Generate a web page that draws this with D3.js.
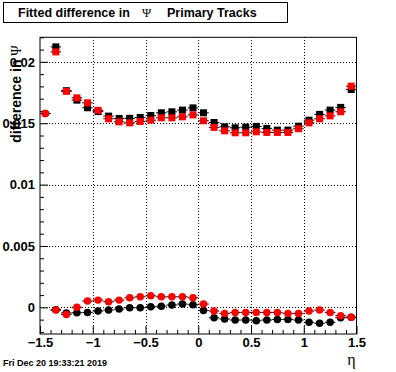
<!DOCTYPE html>
<html>
<head>
<meta charset="utf-8">
<script src="https://cdn.jsdelivr.net/npm/d3@7"></script>
<style>
  body { margin: 0; background: #fff; }
  svg { display: block; font-family: "Liberation Sans", Arial, sans-serif; }
</style>
</head>
<body>
<div id="svg-container"></div>
<script>
////////////////////////////  Data  ////////////////////////////
const etaBins = [-1.45, -1.35, -1.25, -1.15, -1.05, -0.95, -0.85, -0.75, -0.65, -0.55,
  -0.45, -0.35, -0.25, -0.15, -0.05, 0.05, 0.15, 0.25, 0.35, 0.45,
  0.55, 0.65, 0.75, 0.85, 0.95, 1.05, 1.15, 1.25, 1.35, 1.45];
const binHalfWidth = 0.05;

// upper pair (squares)
const blackSquares = [null, 0.02122, 0.01765, 0.01688, 0.01626, 0.01595, 0.01558, 0.01539, 0.0154, 0.01547,
  0.01563, 0.01585, 0.01593, 0.01607, 0.01625, 0.01585, 0.01506, 0.01471, 0.01463, 0.01468,
  0.01474, 0.01458, 0.01444, 0.01444, 0.01476, 0.01525, 0.01572, 0.01607, 0.01629, 0.01775];
const redSquares = [null, 0.02081, 0.0176, 0.01707, 0.01666, 0.01605, 0.01536, 0.01511, 0.01503, 0.01514,
  0.01525, 0.01544, 0.01544, 0.01552, 0.01568, 0.0152, 0.01466, 0.01438, 0.01422, 0.01422,
  0.0143, 0.01425, 0.01425, 0.01425, 0.01455, 0.01503, 0.01536, 0.0156, 0.01593, 0.01802];

// lower pair (circles)
const blackCircles = [0.0158, -0.0002, -0.00045, -0.00044, -0.00041, -0.0003, -0.00022, -0.00014, -0.00003, -0.00003,
  0.00005, 0.0001, 0.00019, 0.00027, 0.00021, -0.00025, -0.00085, -0.00095, -0.00103, -0.00103,
  -0.00109, -0.00103, -0.00098, -0.00098, -0.00103, -0.00122, -0.0013, -0.00122, -0.00085, -0.00081];
const redCircles = [0.0158, -0.00022, -0.00058, 0.0, 0.00051, 0.00059, 0.00046, 0.00059, 0.00078, 0.00086,
  0.00094, 0.00086, 0.00086, 0.00086, 0.00078, 0.00027, -0.0003, -0.00049, -0.00041, -0.00041,
  -0.00041, -0.00041, -0.00041, -0.00049, -0.00049, -0.0003, -0.00022, -0.00041, -0.00068, -0.00081];

const xMajorTicks = [-1.5, -1, -0.5, 0, 0.5, 1, 1.5];
const yMajorTicks = [0, 0.005, 0.01, 0.015, 0.02];

const titleParts = ["Fitted difference in", "\u03A8", "Primary Tracks"];
const yTitle = "difference in ";
const xTitle = "\u03B7";
const dateStamp = "Fri Dec 20 19:33:21 2019";

////////////////////////////  Init  ////////////////////////////
const width = 396;
const height = 372;
const frame = { left: 40, right: 356.5, top: 37.3, bottom: 334 };

const svg = d3.select("#svg-container").append("svg")
  .attr("width", width)
  .attr("height", height);

svg.append("rect").attr("width", width).attr("height", height).attr("fill", "#fff");

// scale
const x = d3.scaleLinear().domain([-1.5, 1.5]).range([frame.left, frame.right]);
const y = d3.scaleLinear().domain([-0.00217, 0.022]).range([frame.bottom, frame.top]);

// grid
const grid = svg.append("g").attr("stroke", "#000").attr("stroke-width", 1)
  .attr("stroke-dasharray", "1,2").attr("shape-rendering", "crispEdges");
grid.selectAll(".gx").data(xMajorTicks.slice(1, -1)).enter().append("line")
  .attr("x1", d => Math.round(x(d)) + 0.5).attr("x2", d => Math.round(x(d)) + 0.5)
  .attr("y1", frame.top).attr("y2", frame.bottom);
grid.selectAll(".gy").data(yMajorTicks).enter().append("line")
  .attr("y1", d => Math.round(y(d)) + 0.5).attr("y2", d => Math.round(y(d)) + 0.5)
  .attr("x1", frame.left).attr("x2", frame.right);

// frame
svg.append("rect")
  .attr("x", frame.left).attr("y", frame.top)
  .attr("width", frame.right - frame.left).attr("height", frame.bottom - frame.top)
  .attr("fill", "none").attr("stroke", "#000").attr("stroke-width", 1);

// axes (ticks pointing inward, ROOT style)
const minorX = x.ticks(30).filter(t => !xMajorTicks.some(m => Math.abs(m - t) < 1e-9));
const minorY = y.ticks(24).filter(t => !yMajorTicks.some(m => Math.abs(m - t) < 1e-9));

const fmtX = d => (d < 0 ? "\u2212" : "") + Math.abs(d);
svg.append("g").attr("transform", `translate(0,${frame.bottom})`)
  .call(d3.axisBottom(x).tickValues(xMajorTicks).tickSize(-8).tickPadding(4).tickFormat(fmtX));
svg.append("g").attr("transform", `translate(0,${frame.bottom})`)
  .call(d3.axisBottom(x).tickValues(minorX).tickSize(-4).tickFormat(""));

svg.append("g").attr("transform", `translate(${frame.left},0)`)
  .call(d3.axisLeft(y).tickValues(yMajorTicks).tickSize(-8).tickPadding(5).tickFormat(d => String(+d.toFixed(3))));
svg.append("g").attr("transform", `translate(${frame.left},0)`)
  .call(d3.axisLeft(y).tickValues(minorY).tickSize(-4).tickFormat(""));

svg.selectAll(".domain").remove();
svg.selectAll(".tick line").attr("stroke", "#000");
svg.selectAll(".tick text")
  .attr("fill", "#000")
  .style("font-family", "'Liberation Sans', Arial, sans-serif")
  .style("font-size", "13px")
  .style("font-weight", "bold");

// data series
const series = [
  { values: blackSquares, color: "#000", symbol: d3.symbolSquare, size: 49 },
  { values: redSquares, color: "#ff0000", symbol: d3.symbolSquare, size: 49 },
  { values: blackCircles, color: "#000", symbol: d3.symbolCircle, size: 44 },
  { values: redCircles, color: "#ff0000", symbol: d3.symbolCircle, size: 44 },
];

series.forEach(s => {
  const pts = etaBins.map((eta, i) => ({ eta, v: s.values[i] })).filter(d => d.v !== null);
  const g = svg.append("g");
  g.selectAll("line").data(pts).enter().append("line")
    .attr("x1", d => x(d.eta - binHalfWidth))
    .attr("x2", d => x(d.eta + binHalfWidth))
    .attr("y1", d => y(d.v)).attr("y2", d => y(d.v))
    .attr("stroke", "#000").attr("stroke-width", 1);
  g.selectAll("path").data(pts).enter().append("path")
    .attr("transform", d => `translate(${x(d.eta)},${y(d.v)})`)
    .attr("d", d3.symbol().type(s.symbol).size(s.size))
    .attr("fill", s.color);
});

// title box
svg.append("rect")
  .attr("x", 3.5).attr("y", 2.5).attr("width", 284).attr("height", 20)
  .attr("fill", "#fff").attr("stroke", "#000").attr("stroke-width", 1);
const title = svg.append("text").attr("y", 16.5)
  .style("font-size", "12.5px").style("font-weight", "bold");
title.append("tspan").attr("x", 18).text(titleParts[0]);
title.append("tspan").attr("x", 142)
  .style("font-family", "'Liberation Serif', serif").style("font-weight", "normal")
  .text(titleParts[1]);
title.append("tspan").attr("x", 167).text(titleParts[2]);

// axis titles
const yt = svg.append("text")
  .attr("transform", `translate(20.5,${frame.top + 8}) rotate(-90)`)
  .attr("text-anchor", "end")
  .style("font-size", "14px").style("font-weight", "bold");
yt.append("tspan").text(yTitle);
yt.append("tspan")
  .style("font-family", "'Liberation Serif', serif").style("font-weight", "normal")
  .text("\u03A8");

svg.append("text")
  .attr("x", frame.right - 1).attr("y", 365)
  .attr("text-anchor", "end")
  .style("font-family", "'Liberation Serif', serif").style("font-size", "16px")
  .text(xTitle);

svg.append("text")
  .attr("x", 3).attr("y", 366)
  .style("font-size", "9px").style("font-weight", "bold")
  .text(dateStamp);
</script>
</body>
</html>
